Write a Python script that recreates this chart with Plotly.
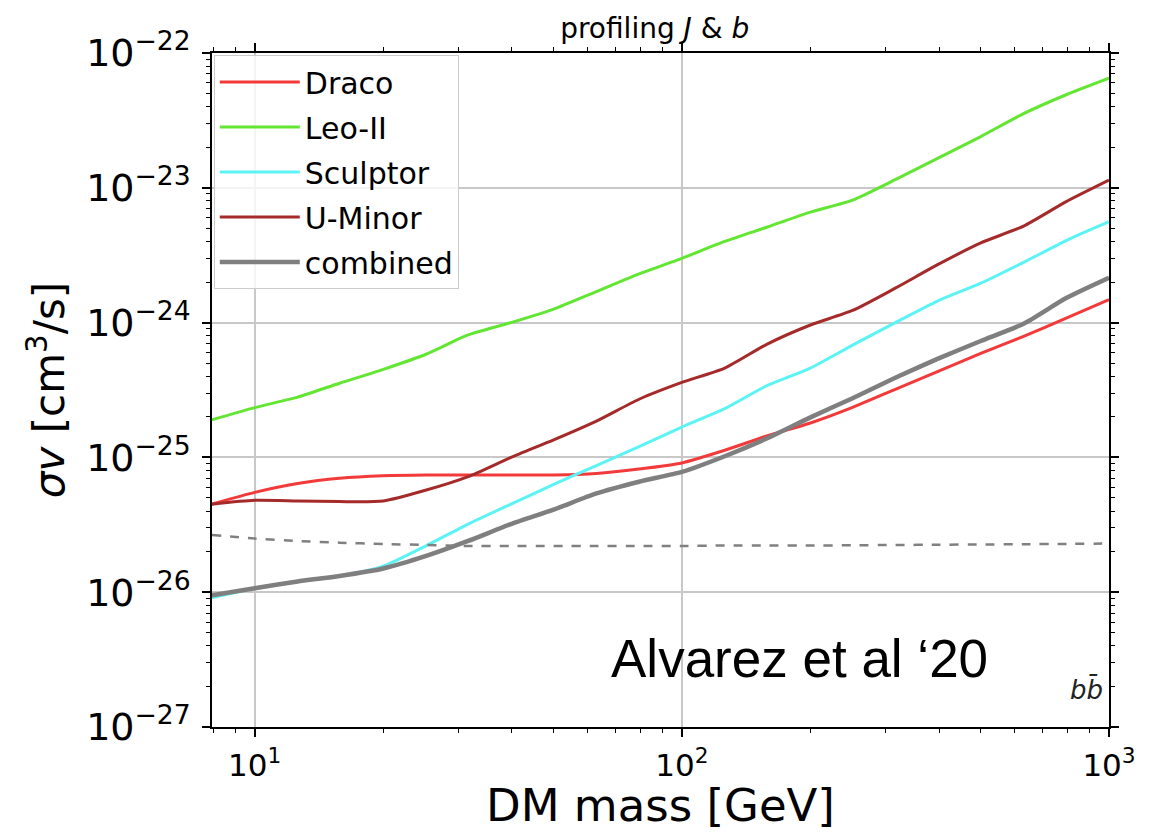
import plotly.graph_objects as go

# Dark-matter mass grid [GeV]
mass = [7.94, 10.0, 12.6, 15.8, 20.0, 25.1, 31.6, 39.8, 50.1, 63.1, 79.4,
        100, 126, 158, 200, 251, 316, 398, 501, 631, 794, 1000]

# 95% upper limits on <sigma v> [cm^3/s], b-bbar channel
draco = [4.5e-26, 5.5e-26, 6.4e-26, 7.0e-26, 7.3e-26, 7.4e-26, 7.4e-26, 7.4e-26,
         7.4e-26, 7.6e-26, 8.2e-26, 9.1e-26, 1.13e-25, 1.44e-25, 1.8e-25, 2.35e-25,
         3.2e-25, 4.35e-25, 5.9e-25, 7.9e-25, 1.08e-24, 1.48e-24]
leo_ii = [1.9e-25, 2.34e-25, 2.8e-25, 3.55e-25, 4.5e-25, 5.8e-25, 8.1e-25, 1.0e-24,
          1.26e-24, 1.7e-24, 2.3e-24, 3.0e-24, 4.0e-24, 5.1e-24, 6.6e-24, 8.1e-24,
          1.15e-23, 1.66e-23, 2.4e-23, 3.55e-23, 4.9e-23, 6.5e-23]
sculptor = [9.1e-27, 1.07e-26, 1.2e-26, 1.32e-26, 1.56e-26, 2.2e-26, 3.2e-26, 4.5e-26,
            6.3e-26, 8.7e-26, 1.2e-25, 1.68e-25, 2.3e-25, 3.4e-25, 4.6e-25, 6.8e-25,
            1.0e-24, 1.45e-24, 1.96e-24, 2.8e-24, 4.06e-24, 5.6e-24]
u_minor = [4.5e-26, 4.8e-26, 4.75e-26, 4.7e-26, 4.75e-26, 5.7e-26, 7.2e-26, 1.0e-25,
           1.35e-25, 1.86e-25, 2.7e-25, 3.6e-25, 4.6e-25, 6.9e-25, 9.6e-25, 1.23e-24,
           1.8e-24, 2.7e-24, 3.9e-24, 5.2e-24, 7.9e-24, 1.14e-23]
combined = [9.5e-27, 1.07e-26, 1.2e-26, 1.32e-26, 1.5e-26, 1.85e-26, 2.4e-26, 3.2e-26,
            4.1e-26, 5.4e-26, 6.6e-26, 7.8e-26, 1.02e-25, 1.38e-25, 1.98e-25, 2.75e-25,
            3.9e-25, 5.4e-25, 7.3e-25, 9.8e-25, 1.52e-24, 2.15e-24]
# thermal relic cross-section
thermal = [2.66e-26, 2.5e-26, 2.4e-26, 2.33e-26, 2.28e-26, 2.24e-26, 2.2e-26, 2.2e-26,
           2.2e-26, 2.2e-26, 2.2e-26, 2.2e-26, 2.22e-26, 2.22e-26, 2.22e-26, 2.23e-26,
           2.24e-26, 2.25e-26, 2.26e-26, 2.27e-26, 2.28e-26, 2.3e-26]

x_ticks = [10, 100, 1000]
x_tick_text = ["10<sup>1</sup>", "10<sup>2</sup>", "10<sup>3</sup>"]
y_ticks = [1e-27, 1e-26, 1e-25, 1e-24, 1e-23, 1e-22]
y_tick_text = ["10<sup>−27</sup>", "10<sup>−26</sup>", "10<sup>−25</sup>",
               "10<sup>−24</sup>", "10<sup>−23</sup>", "10<sup>−22</sup>"]

series = [
    ("Draco", draco, "#f23a3a", 3),
    ("Leo-II", leo_ii, "#62e632", 3),
    ("Sculptor", sculptor, "#5cf3f5", 3),
    ("U-Minor", u_minor, "#a52a2a", 3),
    ("combined", combined, "#7f7f7f", 4.5),
]

fig = go.Figure()
for name, vals, color, width in series:
    fig.add_trace(go.Scatter(x=mass, y=vals, mode="lines", name=name,
                             legendgroup=name,
                             line=dict(color=color, width=width,
                                       shape="spline", smoothing=0.6)))
fig.add_trace(go.Scatter(x=mass, y=thermal, mode="lines", showlegend=False,
                         line=dict(color="#808080", width=2.5, dash="dash",
                                   shape="spline", smoothing=0.6)))

axis_common = dict(
    type="log", showline=True, linecolor="black", linewidth=1.5, mirror="ticks",
    ticks="outside", ticklen=8, tickwidth=1.5, tickcolor="black",
    showgrid=True, gridcolor="#c8c8c8", gridwidth=1.5, zeroline=False,
    tickmode="array", automargin=False,
    minor=dict(ticks="outside", ticklen=4, tickwidth=1, tickcolor="black",
               dtick="D1", showgrid=False),
)

fig.update_xaxes(**axis_common, range=[0.9, 3],
                 tickvals=x_ticks, ticktext=x_tick_text,
                 ticklabelstandoff=2,
                 tickfont=dict(family="DejaVu Sans", size=31, color="black"),
                 title=dict(text="DM mass [GeV]", standoff=6,
                            font=dict(family="DejaVu Sans", size=45, color="black")))
fig.update_yaxes(**axis_common, range=[-27, -22],
                 tickvals=y_ticks, ticktext=y_tick_text,
                 ticklabelstandoff=4,
                 tickfont=dict(family="DejaVu Sans", size=38, color="black"),
                 title=dict(text="<i>σv</i> [cm<sup>3</sup>/s]", standoff=8,
                            font=dict(family="DejaVu Sans", size=42, color="black")))

fig.update_layout(
    width=1165, height=832,
    margin=dict(l=212, r=56, t=53, b=105),
    paper_bgcolor="white", plot_bgcolor="white",
    title=dict(text="profiling <i>J</i> &amp; <i>b</i>", x=0.562, xanchor="center",
               y=0.966, yanchor="middle",
               font=dict(family="DejaVu Sans", size=28, color="black")),
    legend=dict(x=0.002, y=0.997, xanchor="left", yanchor="top",
                bgcolor="rgba(255,255,255,0.8)", bordercolor="#cccccc", borderwidth=1,
                font=dict(family="DejaVu Sans", size=30, color="black"),
                tracegroupgap=3, traceorder="grouped", itemwidth=80),
    annotations=[
        dict(text="Alvarez et al ‘20", x=0.655, y=0.102, xref="paper", yref="paper",
             xanchor="center", yanchor="middle", showarrow=False,
             font=dict(family="Liberation Sans", size=53, color="black")),
        dict(text="<i>bb̄</i>", x=0.995, y=0.055, xref="paper", yref="paper",
             xanchor="right", yanchor="middle", showarrow=False,
             font=dict(family="DejaVu Sans", size=26, color="#222222")),
    ],
)

fig.write_html("out.html")
